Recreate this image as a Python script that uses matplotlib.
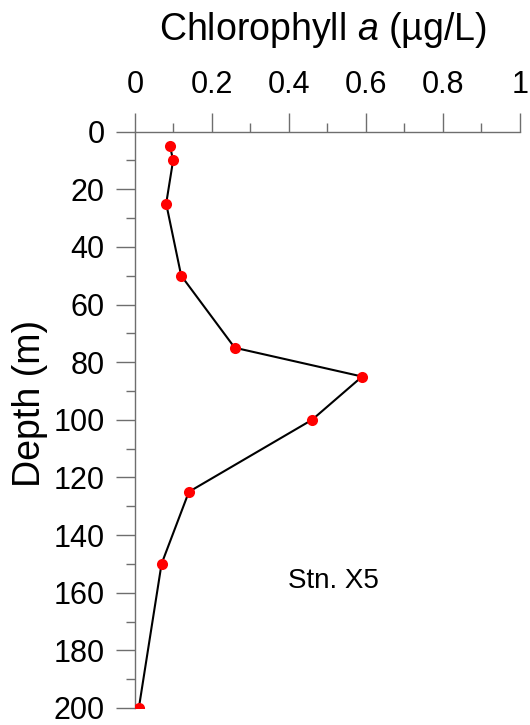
import numpy as np
import matplotlib
matplotlib.use("Agg")
import matplotlib.pyplot as plt
from matplotlib.ticker import MultipleLocator, FuncFormatter

plt.rcParams['font.family'] = ['Liberation Sans', 'DejaVu Sans']
plt.rcParams['mathtext.fontset'] = 'custom'
plt.rcParams['mathtext.rm'] = 'Liberation Sans'
plt.rcParams['mathtext.it'] = 'Liberation Sans:italic'

# chlorophyll profile, station X5
depth = [5, 10, 25, 50, 75, 85, 100, 125, 150, 200]
chl = [0.091, 0.099, 0.081, 0.12, 0.259, 0.59, 0.46, 0.14, 0.069, 0.01]
station = "Stn. X5"

axis_grey = '#6e6e6e'

fig = plt.figure(figsize=(5.3, 7.25), dpi=100)
ax = fig.add_axes([0.2547, 0.0235, 0.7264, 0.795])

ax.plot(chl, depth, color='black', lw=1.5, zorder=2)
ax.plot(chl, depth, 'o', color='red', ms=8, mec='none', zorder=3)

ax.set_xlim(0, 1)
ax.set_ylim(200, 0)

# axes on top and left only
for side in ['bottom', 'right']:
    ax.spines[side].set_visible(False)
for side in ['top', 'left']:
    ax.spines[side].set_color(axis_grey)
    ax.spines[side].set_linewidth(1.0)

ax.xaxis.set_ticks_position('top')
ax.xaxis.set_label_position('top')
ax.xaxis.set_major_locator(MultipleLocator(0.2))
ax.xaxis.set_minor_locator(MultipleLocator(0.1))
ax.yaxis.set_major_locator(MultipleLocator(20))
ax.yaxis.set_minor_locator(MultipleLocator(10))
ax.xaxis.set_major_formatter(FuncFormatter(lambda v, p: '%g' % v))

ax.tick_params(which='major', direction='out', length=13.7, width=1.0,
               color=axis_grey, labelsize=22)
ax.tick_params(which='minor', direction='out', length=6.5, width=1.0,
               color=axis_grey)
ax.tick_params(axis='x', which='major', pad=9)
ax.tick_params(axis='y', which='major', pad=8)

ax.set_xlabel(r'Chlorophyll $a$ (µg/L)', fontsize=27, va='baseline')
ax.xaxis.set_label_coords(0.487, 1.159)
ax.set_ylabel('Depth (m)', fontsize=27)
ax.yaxis.set_label_coords(-0.227, 0.5275)

ax.text(0.397, 158.2, station, fontsize=20, ha='left', va='baseline')

fig.savefig('out.png', dpi=100)
